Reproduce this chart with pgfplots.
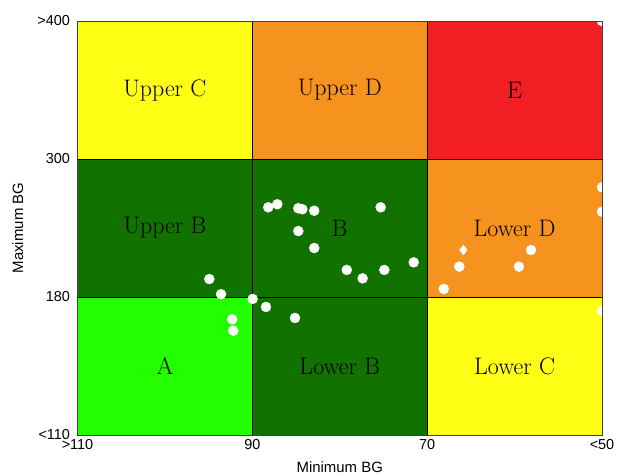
\documentclass[border=0pt]{standalone}
\usepackage{fontspec}
\usepackage{pgfplots}
\pgfplotsset{compat=1.18}
\newfontfamily\arialfont{Liberation Sans}
\definecolor{cyel}{RGB}{255,255,22}
\definecolor{corg}{RGB}{246,146,30}
\definecolor{cred}{RGB}{241,30,36}
\definecolor{cdg}{RGB}{17,114,0}
\definecolor{cbg}{RGB}{36,255,0}
\newcommand\rl[1]{{\addfontfeatures{FakeStretch=1.35,FakeBold=1}\fontsize{24}{28}\selectfont #1}}
\begin{document}
\begin{tikzpicture}[x=1bp,y=1bp]
\begin{axis}[
  at={(77.5bp,40bp)}, anchor=south west,
  scale only axis, width=524.5bp, height=414bp,
  xmin=0, xmax=3, ymin=0, ymax=3,
  xtick={0,1,2,3}, ytick={0,1,2,3},
  xticklabels={>110,90,70,<50},
  yticklabels={<110,180,300,>400},
  major tick length=0pt,
  tick label style={font=\arialfont\fontsize{14.5}{16}\selectfont},
  xticklabel style={anchor=north, yshift=-1bp},
  yticklabel style={anchor=east, xshift=-4bp},
  xlabel={Minimum BG}, ylabel={Maximum BG},
  every axis x label/.style={at={(axis description cs:0.5,-0.077)},anchor=center,font=\arialfont\fontsize{15}{17}\selectfont},
  every axis y label/.style={at={(axis description cs:-0.114,0.5)},anchor=center,rotate=90,font=\arialfont\fontsize{15}{17}\selectfont},
  axis line style={draw=black!75, line width=0.8pt},
  clip marker paths=true,
  axis on top,
]
% regions
\addplot[fill=cbg, draw=black, line width=0.6pt] coordinates {(0,0)(1,0)(1,1)(0,1)} -- cycle;
\addplot[fill=cdg, draw=black, line width=0.6pt] coordinates {(1,0)(2,0)(2,1)(1,1)} -- cycle;
\addplot[fill=cyel, draw=black, line width=0.6pt] coordinates {(2,0)(3,0)(3,1)(2,1)} -- cycle;
\addplot[fill=cdg, draw=black, line width=0.6pt] coordinates {(0,1)(1,1)(1,2)(0,2)} -- cycle;
\addplot[fill=cdg, draw=black, line width=0.6pt] coordinates {(1,1)(2,1)(2,2)(1,2)} -- cycle;
\addplot[fill=corg, draw=black, line width=0.6pt] coordinates {(2,1)(3,1)(3,2)(2,2)} -- cycle;
\addplot[fill=cyel, draw=black, line width=0.6pt] coordinates {(0,2)(1,2)(1,3)(0,3)} -- cycle;
\addplot[fill=corg, draw=black, line width=0.6pt] coordinates {(1,2)(2,2)(2,3)(1,3)} -- cycle;
\addplot[fill=cred, draw=black, line width=0.6pt] coordinates {(2,2)(3,2)(3,3)(2,3)} -- cycle;
% labels
\node at (axis cs:0.5,2.5) {\rl{Upper C}};
\node at (axis cs:1.5,2.5) {\rl{Upper D}};
\node at (axis cs:2.5,2.5) {\rl{E}};
\node at (axis cs:0.5,1.5) {\rl{Upper B}};
\node at (axis cs:1.5,1.5) {\rl{B}};
\node at (axis cs:2.5,1.5) {\rl{Lower D}};
\node at (axis cs:0.5,0.5) {\rl{A}};
\node at (axis cs:1.5,0.5) {\rl{Lower B}};
\node at (axis cs:2.5,0.5) {\rl{Lower C}};
% points
\addplot[only marks, white, mark=*, mark size=5bp] coordinates {
(1.091,1.650)(1.143,1.672)(1.263,1.643)(1.286,1.636)(1.354,1.625)
(1.263,1.478)(1.354,1.355)(0.754,1.130)(0.821,1.020)(1.002,0.986)
(1.078,0.928)(1.244,0.848)(0.885,0.838)(0.891,0.756)(1.734,1.650)
(1.540,1.196)(1.631,1.135)(1.755,1.196)(1.923,1.251)(2.095,1.058)
(3,1.795)(3,1.618)(2.184,1.220)(2.594,1.341)(2.525,1.220)
(3,0.901)(3,3)
};
\addplot[only marks, white, mark=diamond*, mark size=5bp] coordinates {(2.207,1.341)};
\end{axis}
\pgfresetboundingbox
\path[use as bounding box] (0,0) rectangle (617bp,475bp);
\end{tikzpicture}
\end{document}
